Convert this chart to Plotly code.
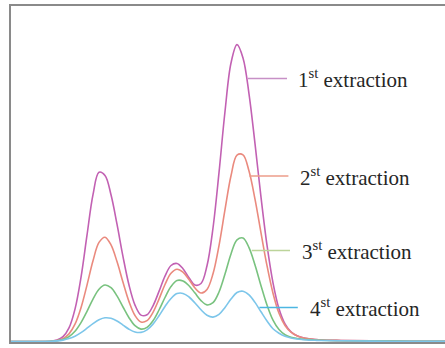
import plotly.graph_objects as go

# Retention time (min) shared by all four chromatograms
time_min = [0.0, 1.0,
            2.0, 2.3, 2.6, 2.9, 3.2, 3.5, 3.8, 4.1, 4.4, 4.7,
            5.0, 5.3, 5.6, 5.9, 6.2, 6.5, 6.8, 7.1, 7.4, 7.7,
            8.0, 8.3, 8.6, 8.9, 9.2, 9.5, 9.8, 10.1, 10.4, 10.7,
            11.0, 11.3, 11.6, 11.9, 12.2, 12.5, 12.8, 13.1, 13.4, 13.7,
            14.0, 14.3, 14.6, 14.9, 15.2, 15.5,
            16.5, 18.0, 20.0, 21.7]

# Detector signal (mAU) for each extraction
extraction_1 = [0, 0,
                0.3, 1.4, 4.8, 13.6, 32.4, 64.2, 106.3, 146.9, 169.3, 166.1,
                146.7, 117.3, 84.9, 56.5, 36.4, 26.4, 26.7, 35.7, 50.1, 65.4,
                76.0, 78.0, 72.8, 63.8, 56.4, 58.0, 75.7, 113.5, 168.8, 230.0,
                278.5, 296.9, 283.6, 247.7, 197.8, 144.3, 96.3, 58.7, 32.7, 17.6,
                9.7, 5.8, 3.8, 2.7, 2.0, 1.5,
                1.0, 0.6, 0.3, 0.2]

extraction_2 = [0, 0,
                0.3, 0.9, 2.9, 7.6, 17.3, 33.8, 56.4, 80.7, 99.1, 104.3,
                96.6, 79.9, 59.2, 39.9, 26.0, 19.5, 20.9, 29.2, 42.4, 57.0,
                68.2, 72.2, 69.3, 61.9, 53.5, 48.5, 52.1, 67.7, 95.9, 131.8,
                165.7, 186.4, 186.7, 170.5, 142.3, 108.6, 75.8, 48.3, 28.2, 16.0,
                9.3, 5.7, 3.8, 2.7, 2.0, 1.5,
                1.0, 0.6, 0.3, 0.2]

extraction_3 = [0, 0,
                0.2, 0.8, 2.0, 4.9, 10.2, 18.8, 30.1, 42.4, 52.3, 56.5,
                53.8, 45.6, 34.5, 23.8, 15.8, 12.4, 14.1, 20.7, 31.5, 44.0,
                55.0, 61.0, 60.5, 55.8, 48.4, 40.9, 36.6, 38.8, 49.5, 67.5,
                87.6, 101.7, 103.5, 93.9, 76.5, 55.8, 36.4, 21.3, 11.9, 6.7,
                4.2, 3.0, 2.3, 1.9, 1.5, 1.2,
                0.8, 0.5, 0.3, 0.2]

extraction_4 = [0, 0,
                0.2, 0.6, 1.4, 2.9, 5.3, 8.9, 13.3, 17.9, 21.7, 23.7,
                23.2, 20.5, 16.4, 12.3, 9.5, 9.1, 11.7, 17.4, 25.7, 35.0,
                43.0, 47.9, 48.1, 44.5, 38.5, 31.7, 26.3, 24.4, 27.1, 34.0,
                42.5, 49.0, 50.3, 46.6, 39.1, 29.7, 20.5, 12.8, 8.3, 5.2,
                3.5, 2.5, 1.9, 1.4, 1.2, 1.0,
                0.7, 0.4, 0.2, 0.1]

series_labels = ["1<sup>st</sup> extraction", "2<sup>st</sup> extraction",
                 "3<sup>st</sup> extraction", "4<sup>st</sup> extraction"]
series_values = [extraction_1, extraction_2, extraction_3, extraction_4]

# Styling and label placement
line_colors = ["#c261b3", "#ea8a7e", "#79c27f", "#7dc6ea"]
leader_colors = ["#c790c6", "#ec9c8a", "#bcd49a", "#4cb6e2"]
leader_start = [11.85, 11.92, 12.04, 12.42]
leader_end = [13.80, 13.87, 13.95, 14.34]
label_x = [14.27, 14.35, 14.43, 14.85]
label_y = [263.0, 165.5, 91.0, 34.0]

fig = go.Figure()

for values, color in zip(series_values, line_colors):
    fig.add_trace(go.Scatter(
        x=time_min, y=values, mode="lines",
        line=dict(color=color, width=1.6, shape="spline", smoothing=1.0),
        hoverinfo="skip", showlegend=False,
    ))

for i, text in enumerate(series_labels):
    fig.add_shape(type="line", xref="x", yref="y",
                  x0=leader_start[i], x1=leader_end[i],
                  y0=label_y[i], y1=label_y[i],
                  line=dict(color=leader_colors[i], width=1.5))
    fig.add_annotation(x=label_x[i], y=label_y[i], xref="x", yref="y",
                       text=text, showarrow=False,
                       xanchor="left", yanchor="middle",
                       font=dict(family="'Liberation Serif', 'DejaVu Serif', serif",
                                 size=21, color="#262626"))

axis_common = dict(showgrid=False, zeroline=False, showticklabels=False,
                   ticks="", showline=True, linecolor="#8a8a8a", linewidth=2)

fig.update_layout(
    width=445, height=348,
    margin=dict(l=11, r=0, t=6, b=6, pad=0),
    paper_bgcolor="white", plot_bgcolor="white",
    xaxis=dict(range=[0, 21.7], mirror=True, **axis_common),
    yaxis=dict(range=[-0.5, 335.5], mirror=False, **axis_common),
)

fig.write_html("out.html")
